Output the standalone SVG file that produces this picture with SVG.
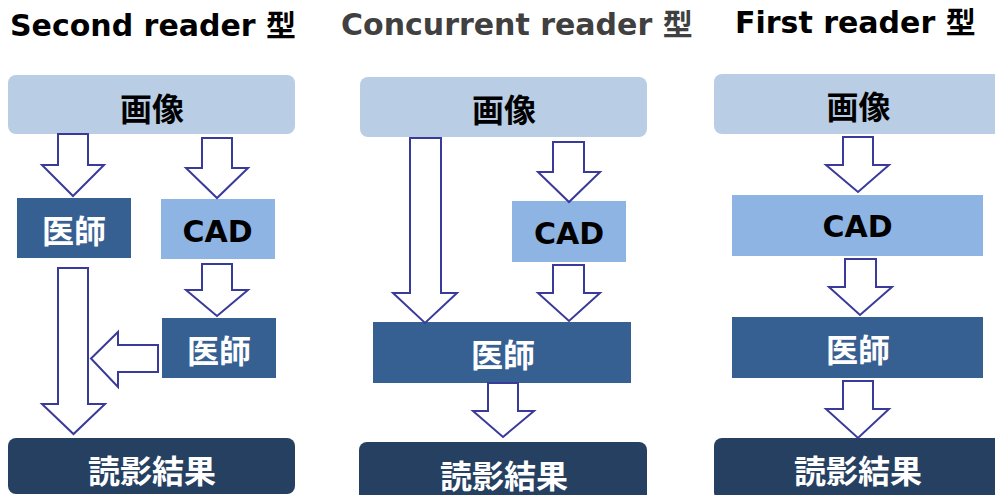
<svg xmlns="http://www.w3.org/2000/svg" width="995" height="495" viewBox="0 0 995 495">
<style>
.title{font-family:"DejaVu Sans","Noto Sans CJK JP",sans-serif;font-weight:bold;font-size:30px;fill:#000}
.lbl{font-family:"Noto Sans CJK JP",sans-serif;font-weight:bold;font-size:32px;text-anchor:middle;dominant-baseline:central}
.cad{font-family:"DejaVu Sans","Noto Sans CJK JP",sans-serif;font-weight:bold;font-size:30px;text-anchor:middle;fill:#000}
.img{fill:#B9CDE5}
.cadbox{fill:#8EB4E3}
.doc{fill:#376092}
.res{fill:#254061}
.dark{fill:#000}
.white{fill:#fff}
.arr{fill:#fff;stroke:#3A3A9A;stroke-width:2;stroke-linejoin:miter}
</style>
<g id="titles">
<text class="title" x="10" y="36">Second reader 型</text>
<text class="title" x="341" y="35" style="fill:#404040">Concurrent reader 型</text>
<text class="title" x="735" y="33">First reader 型</text>
</g>
<!-- Panel 1 -->
<g id="p1-image"><rect class="img" x="8" y="75" width="287" height="59" rx="8"/><text class="lbl dark" x="152" y="106.5">画像</text></g>
<g id="p1-doctor1"><rect class="doc" x="17" y="198" width="114" height="60"/><text class="lbl white" x="74" y="228.5">医師</text></g>
<g id="p1-cad"><rect class="cadbox" x="161" y="199" width="114" height="60"/><text class="cad" x="217.5" y="242">CAD</text></g>
<g id="p1-doctor2"><rect class="doc" x="162" y="318" width="114" height="60"/><text class="lbl white" x="219" y="348.5">医師</text></g>
<g id="p1-result"><rect class="res" x="8" y="438" width="287" height="56" rx="8"/><text class="lbl white" x="152" y="469">読影結果</text></g>
<!-- Panel 2 -->
<g id="p2-image"><rect class="img" x="360" y="77" width="287" height="60" rx="8"/><text class="lbl dark" x="504" y="108">画像</text></g>
<g id="p2-cad"><rect class="cadbox" x="512" y="201" width="114" height="61"/><text class="cad" x="569" y="244">CAD</text></g>
<g id="p2-doctor"><rect class="doc" x="373" y="322" width="258" height="61"/><text class="lbl white" x="503" y="352.5">医師</text></g>
<g id="p2-result"><rect class="res" x="359" y="442" width="288" height="60" rx="8"/><text class="lbl white" x="504" y="473.5">読影結果</text></g>
<!-- Panel 3 -->
<g id="p3-image"><rect class="img" x="714" y="74" width="290" height="60" rx="8"/><text class="lbl dark" x="858.5" y="105">画像</text></g>
<g id="p3-cad"><rect class="cadbox" x="732" y="195" width="251" height="61"/><text class="cad" x="857.5" y="237">CAD</text></g>
<g id="p3-doctor"><rect class="doc" x="732" y="317" width="251" height="61"/><text class="lbl white" x="858" y="347.5">医師</text></g>
<g id="p3-result"><rect class="res" x="714" y="438" width="290" height="62" rx="8"/><text class="lbl white" x="858" y="469">読影結果</text></g>
<g id="connectors">
<!-- panel 1 -->
<path class="arr" d="M58,134 H88 V165 H104 L73,196 L42,165 H58 Z"/>
<path class="arr" d="M202,138 H232 V168 H248 L217,198 L186,168 H202 Z"/>
<path class="arr" d="M202,264 H232 V290 H248 L217,316 L186,290 H202 Z"/>
<path class="arr" d="M158,345 V372 H118 V387 L91,358.5 L118,332 V345 Z"/>
<path class="arr" d="M58,268 H88 V404 H105 L73.5,434 L42,404 H58 Z"/>
<!-- panel 2 -->
<path class="arr" d="M410,138 H441 V293 H457 L425,323 L393,293 H410 Z"/>
<path class="arr" d="M553,142 H584 V172 H600 L569,202 L538,172 H553 Z"/>
<path class="arr" d="M553,265 H584 V293 H600 L569,321 L538,293 H553 Z"/>
<path class="arr" d="M488,383 H518 V411 H534 L503,437 L473,411 H488 Z"/>
<!-- panel 3 -->
<path class="arr" d="M843,137 H873 V165 H889 L858,192 L826,165 H843 Z"/>
<path class="arr" d="M845,259 H876 V287 H892 L860,315 L829,287 H845 Z"/>
<path class="arr" d="M843,381 H873 V409 H889 L858,438 L826,409 H843 Z"/>
</g>
</svg>
